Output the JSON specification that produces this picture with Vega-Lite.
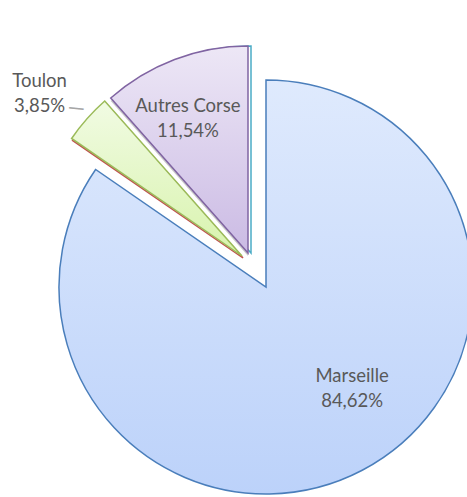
{
  "$schema": "https://vega.github.io/schema/vega-lite/v6.json",
  "width": 400,
  "height": 400,
  "autosize": {"type": "none"},
  "padding": {"left": 56, "top": 70, "right": 11, "bottom": 27},
  "background": "white",
  "view": {"stroke": null},
  "data": {
    "values": [
      {"city": "Marseille", "pct": 84.62, "label": "Marseille\n84,62%"},
      {"city": "Toulon", "pct": 3.85, "label": "Toulon\n3,85%"},
      {"city": "Autres Corse", "pct": 11.54, "label": "Autres Corse\n11,54%"}
    ]
  },
  "transform": [{"window": [{"op": "row_number", "as": "idx"}]}],
  "encoding": {
    "theta": {"field": "pct", "type": "quantitative", "stack": true},
    "order": {"field": "idx", "type": "quantitative"}
  },
  "layer": [
    {
      "mark": {"type": "arc", "radius": 207, "xOffset": 10, "yOffset": 17, "fill": {"gradient": "linear", "x1": 0, "y1": 0, "x2": 0, "y2": 1, "stops": [{"offset": 0, "color": "#dfeafd"}, {"offset": 1, "color": "#bcd2fa"}]}, "stroke": "#4a7ebb", "strokeWidth": 1.5},
      "encoding": {"opacity": {"condition": {"test": "datum.city === 'Marseille'", "value": 1}, "value": 0}}
    },
    {
      "mark": {"type": "arc", "radius": 207, "xOffset": -13, "yOffset": -12, "fill": null, "stroke": "#c0504d", "strokeWidth": 1.5},
      "encoding": {"opacity": {"condition": {"test": "datum.city === 'Toulon'", "value": 1}, "value": 0}}
    },
    {
      "mark": {"type": "arc", "radius": 207, "xOffset": -14, "yOffset": -14, "fill": {"gradient": "linear", "x1": 0, "y1": 0, "x2": 0, "y2": 1, "stops": [{"offset": 0, "color": "#f1fbe3"}, {"offset": 1, "color": "#d8f3ad"}]}, "stroke": "#9bbb59", "strokeWidth": 1.5},
      "encoding": {"opacity": {"condition": {"test": "datum.city === 'Toulon'", "value": 1}, "value": 0}}
    },
    {
      "mark": {"type": "arc", "radius": 207, "xOffset": -8, "yOffset": -14, "fill": "#a6a6a6", "stroke": null},
      "encoding": {"opacity": {"condition": {"test": "datum.city === 'Autres Corse'", "value": 0.6}, "value": 0}}
    },
    {
      "mark": {"type": "arc", "radius": 207, "xOffset": -5, "yOffset": -17, "fill": null, "stroke": "#4bacc6", "strokeWidth": 1.5},
      "encoding": {"opacity": {"condition": {"test": "datum.city === 'Autres Corse'", "value": 1}, "value": 0}}
    },
    {
      "mark": {"type": "arc", "radius": 207, "xOffset": -8, "yOffset": -17, "fill": {"gradient": "linear", "x1": 0, "y1": 0, "x2": 0, "y2": 1, "stops": [{"offset": 0, "color": "#ede7f6"}, {"offset": 1, "color": "#cbbbe4"}]}, "stroke": "#8064a2", "strokeWidth": 1.5},
      "encoding": {"opacity": {"condition": {"test": "datum.city === 'Autres Corse'", "value": 1}, "value": 0}}
    },
    {
      "mark": {"type": "text", "radius": 110, "xOffset": 10, "yOffset": 17, "dx": 35, "dy": -8, "font": "Lato", "fontSize": 18.5, "lineHeight": 25, "lineBreak": "\n", "align": "center", "baseline": "middle", "color": "#595959"},
      "encoding": {"text": {"field": "label"}, "opacity": {"condition": {"test": "datum.city === 'Marseille'", "value": 1}, "value": 0}}
    },
    {
      "mark": {"type": "text", "radius": 144, "xOffset": -8, "yOffset": -17, "dx": -9, "dy": -12, "font": "Lato", "fontSize": 18.5, "lineHeight": 25, "lineBreak": "\n", "align": "center", "baseline": "middle", "color": "#595959"},
      "encoding": {"text": {"field": "label"}, "opacity": {"condition": {"test": "datum.city === 'Autres Corse'", "value": 1}, "value": 0}}
    },
    {
      "mark": {"type": "text", "radius": 245, "xOffset": -14, "yOffset": -14, "dx": -19, "dy": -13, "font": "Lato", "fontSize": 18.5, "lineHeight": 25, "lineBreak": "\n", "align": "center", "baseline": "middle", "color": "#595959"},
      "encoding": {"text": {"field": "label"}, "opacity": {"condition": {"test": "datum.city === 'Toulon'", "value": 1}, "value": 0}}
    },
    {
      "mark": {"type": "text", "radius": 220, "xOffset": -14, "yOffset": -14, "dx": -1, "dy": -2, "angle": 6, "font": "Lato", "fontSize": 22, "align": "center", "baseline": "middle", "color": "#a6a6a6", "text": "—"},
      "encoding": {"opacity": {"condition": {"test": "datum.city === 'Toulon'", "value": 1}, "value": 0}}
    }
  ]
}
